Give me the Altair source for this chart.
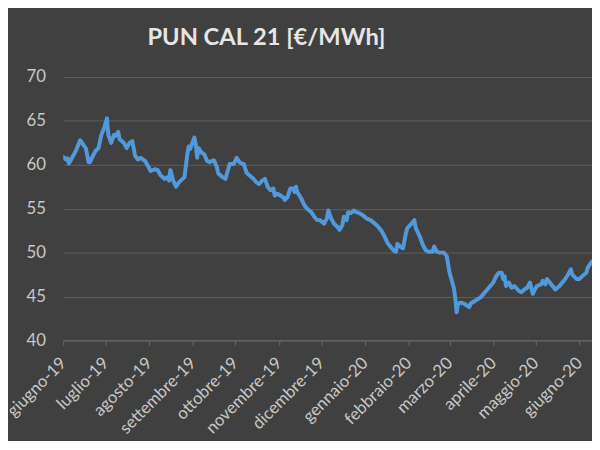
import altair as alt
import pandas as pd

# Italian month names used for the x tick labels
mesi = ["gennaio", "febbraio", "marzo", "aprile", "maggio", "giugno",
        "luglio", "agosto", "settembre", "ottobre", "novembre", "dicembre"]

tick_months = [(2019, m) for m in range(6, 13)] + [(2020, m) for m in range(1, 7)]

y_ticks = [40, 45, 50, 55, 60, 65, 70]

date_2019 = [
    "2019-06-01", "2019-06-03", "2019-06-04", "2019-06-05", "2019-06-10", "2019-06-13", "2019-06-16",
    "2019-06-17", "2019-06-19", "2019-06-20", "2019-06-22", "2019-06-24", "2019-06-26", "2019-06-28", "2019-06-30",
    "2019-07-02", "2019-07-03", "2019-07-05", "2019-07-07", "2019-07-08", "2019-07-10", "2019-07-11", "2019-07-14",
    "2019-07-16", "2019-07-18", "2019-07-20", "2019-07-22", "2019-07-24", "2019-07-26", "2019-07-29", "2019-07-31",
    "2019-08-02", "2019-08-05", "2019-08-07", "2019-08-09", "2019-08-12", "2019-08-14", "2019-08-15", "2019-08-16",
    "2019-08-18", "2019-08-20", "2019-08-22", "2019-08-26", "2019-08-28", "2019-08-29", "2019-08-30",
    "2019-09-01", "2019-09-02", "2019-09-03", "2019-09-04", "2019-09-05", "2019-09-07", "2019-09-09", "2019-09-11",
    "2019-09-13", "2019-09-15", "2019-09-16", "2019-09-18", "2019-09-19", "2019-09-22", "2019-09-24", "2019-09-26",
    "2019-09-27", "2019-09-30",
    "2019-10-02", "2019-10-04", "2019-10-06", "2019-10-07", "2019-10-09", "2019-10-11", "2019-10-14", "2019-10-16",
    "2019-10-18", "2019-10-20", "2019-10-22", "2019-10-24", "2019-10-26", "2019-10-28", "2019-10-29", "2019-10-31",
    "2019-11-02", "2019-11-04", "2019-11-05", "2019-11-07", "2019-11-09", "2019-11-11", "2019-11-12", "2019-11-13",
    "2019-11-14", "2019-11-17", "2019-11-19", "2019-11-21", "2019-11-24", "2019-11-26", "2019-11-28", "2019-11-30",
    "2019-12-03", "2019-12-05", "2019-12-06", "2019-12-08", "2019-12-10", "2019-12-12", "2019-12-14", "2019-12-16",
    "2019-12-17", "2019-12-19", "2019-12-20", "2019-12-22", "2019-12-24", "2019-12-26", "2019-12-28", "2019-12-31",
]
pun_2019 = [
    60.9, 60.6, 60.75, 60.15, 61.6, 62.8, 62.1, 61.9, 60.3, 60.3, 61.0, 61.6, 61.9, 63.4, 64.2,
    65.3, 63.4, 62.5, 63.4, 63.3, 63.75, 62.9, 62.5, 61.9, 62.5, 62.7, 61.0, 60.6, 60.8, 60.45, 59.9,
    59.3, 59.5, 59.4, 58.8, 58.4, 58.6, 58.2, 59.4, 58.2, 57.5, 58.0, 58.6, 61.2, 62.1, 61.8,
    62.7, 63.1, 62.3, 60.8, 61.9, 61.4, 61.2, 60.45, 60.3, 60.5, 60.5, 59.7, 59.0, 58.6, 58.4, 59.5, 60.1, 60.1,
    60.8, 60.3, 60.1, 60.1, 59.1, 58.8, 58.4, 58.0, 57.8, 58.2, 58.4, 57.5, 57.1, 57.3, 56.5, 56.7,
    56.5, 56.3, 56.0, 56.3, 57.3, 57.3, 56.9, 57.5, 56.9, 56.1, 55.4, 55.0, 54.6, 54.1, 53.7, 53.7,
    53.3, 53.9, 54.8, 53.9, 53.3, 53.0, 52.6, 53.15, 54.1, 53.7, 54.6, 54.5, 54.8, 54.6, 54.5, 54.2,
]

date_2020 = [
    "2020-01-02", "2020-01-05", "2020-01-08", "2020-01-10", "2020-01-13", "2020-01-15", "2020-01-17", "2020-01-19",
    "2020-01-21", "2020-01-23", "2020-01-24", "2020-01-26", "2020-01-28", "2020-01-30", "2020-01-31",
    "2020-02-03", "2020-02-05", "2020-02-06", "2020-02-09", "2020-02-11", "2020-02-13", "2020-02-15", "2020-02-18",
    "2020-02-19", "2020-02-21", "2020-02-23", "2020-02-26", "2020-02-28",
    "2020-03-01", "2020-03-04", "2020-03-05", "2020-03-06", "2020-03-07", "2020-03-09", "2020-03-11", "2020-03-13",
    "2020-03-15", "2020-03-16", "2020-03-18", "2020-03-23", "2020-03-27",
    "2020-04-01", "2020-04-03", "2020-04-05", "2020-04-07", "2020-04-08", "2020-04-09", "2020-04-10", "2020-04-12",
    "2020-04-14", "2020-04-16", "2020-04-19", "2020-04-21", "2020-04-23", "2020-04-25", "2020-04-27", "2020-04-29",
    "2020-04-30",
    "2020-05-02", "2020-05-05", "2020-05-06", "2020-05-08", "2020-05-09", "2020-05-11", "2020-05-13", "2020-05-15",
    "2020-05-18", "2020-05-20", "2020-05-22", "2020-05-24", "2020-05-26", "2020-05-27", "2020-05-30",
    "2020-06-01", "2020-06-03", "2020-06-06", "2020-06-07", "2020-06-10",
]
pun_2020 = [
    53.9, 53.7, 53.3, 53.0, 52.4, 51.8, 51.1, 50.7, 50.3, 50.1, 51.0, 50.7, 50.5, 52.2, 52.8,
    53.3, 53.7, 52.8, 51.8, 50.9, 50.3, 50.1, 50.1, 50.7, 50.1, 50.0, 50.0, 49.6,
    47.7, 46.0, 44.9, 43.2, 44.2, 44.3, 44.2, 44.0, 43.8, 44.2, 44.4, 44.9, 45.65,
    46.6, 47.3, 47.7, 47.7, 47.0, 47.3, 46.2, 46.6, 46.0, 46.2, 45.65, 45.5, 45.8, 46.0, 46.6, 45.3, 45.65,
    46.2, 46.4, 46.8, 46.4, 47.0, 46.6, 46.2, 45.8, 46.2, 46.6, 47.0, 47.5, 48.1, 47.5, 47.0,
    47.0, 47.3, 47.7, 48.3, 49.0,
]

df = pd.DataFrame({"data": date_2019 + date_2020, "pun": pun_2019 + pun_2020})

FONT = "Lato"
LABEL = "#c8c8c8"

month_array = "[" + ",".join("'" + m + "'" for m in mesi) + "]"
label_expr = month_array + "[utcmonth(datum.value)] + '-' + utcFormat(datum.value, '%y')"

x_axis = alt.Axis(
    values=[alt.DateTime(year=y, month=m, date=1, utc=True) for y, m in tick_months],
    labelExpr=label_expr,
    title=None,
    labelAngle=-45,
    labelAlign="right",
    labelBaseline="middle",
    labelFont=FONT,
    labelFontSize=17,
    labelColor=LABEL,
    labelPadding=15,
    labelOverlap=False,
    labelBound=False,
    labelFlush=False,
    grid=False,
    domainColor="#6a6a6a",
    tickColor="#6a6a6a",
    tickSize=5,
)

y_axis = alt.Axis(
    values=y_ticks,
    title=None,
    domain=False,
    ticks=False,
    labelFont=FONT,
    labelFontSize=17,
    labelColor=LABEL,
    labelPadding=18,
    gridColor="#5e5e5e",
    gridWidth=1,
)

chart = alt.Chart(df).mark_line(
    color="#5199db", strokeWidth=4, clip=True, strokeJoin="round", strokeCap="round"
).encode(
    x=alt.X(
        "data:T",
        scale=alt.Scale(
            type="utc",
            domain=[alt.DateTime(year=2019, month=6, date=1, utc=True),
                    alt.DateTime(year=2020, month=6, date=10, utc=True)],
        ),
        axis=x_axis,
    ),
    y=alt.Y("pun:Q", scale=alt.Scale(domain=[40, 70]), axis=y_axis),
).properties(
    width=536,
    height=267,
    title=alt.TitleParams(
        "PUN CAL 21 [€/MWh]",
        font=FONT,
        fontSize=24,
        fontWeight="bold",
        color="#e6e6e6",
        anchor="middle",
        frame="group",
        dx=-62,
        offset=18,
    ),
    autosize=alt.AutoSizeParams(type="none"),
    padding={"left": 56, "top": 67, "right": 0, "bottom": 99},
    background="#404040",
).configure_view(stroke=None)

chart.save("out.html", embed_options={"renderer": "svg", "actions": False})
